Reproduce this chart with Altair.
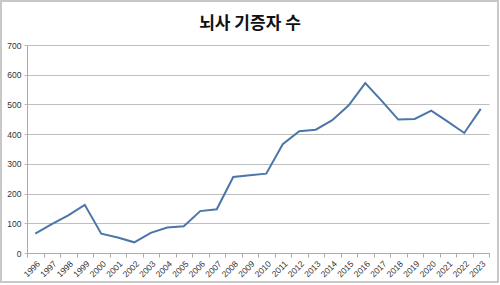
import altair as alt
import pandas as pd

years = [str(y) for y in range(1996, 2024)]
donors = [65, 97, 127, 162, 65, 52, 36, 68, 86, 90, 141, 147, 256, 262,
          267, 366, 410, 415, 447, 497, 572, 512, 449, 451, 479, 442, 404, 485]

df = pd.DataFrame({"year": years, "donors": donors})

W, H = 462, 208
PL, PT, PR, PB = 27, 45, 11, 32

line = alt.Chart(df).mark_line(color="#4a76a8", strokeWidth=2).encode(
    x=alt.X("year:O", scale=alt.Scale(type="band", paddingInner=0, paddingOuter=0),
            axis=alt.Axis(title=None, labelAngle=-45, tickBand="extent",
                          labelFontSize=8.5, labelColor="#333", domainColor="#aaa",
                          tickColor="#aaa", tickSize=4, labelPadding=2,
                          labelFont="Liberation Sans")),
    y=alt.Y("donors:Q", scale=alt.Scale(domain=[0, 700]),
            axis=alt.Axis(title=None, values=list(range(0, 701, 100)),
                          labelFontSize=8.5, labelColor="#333", domainColor="#aaa",
                          tickColor="#bbb", tickSize=3, gridColor="#bebebe",
                          labelPadding=3, labelFont="Liberation Sans")),
)

border = alt.Chart(df).mark_rect(fill=None, stroke="#c8c8c8", strokeWidth=2, clip=False).encode(
    x=alt.value(-PL + 1), x2=alt.value(W + PR - 2),
    y=alt.value(-PT + 1), y2=alt.value(H + PB - 3),
)

chart = alt.layer(line, border).properties(
    width=W, height=H,
    padding={"left": PL, "top": PT, "right": PR, "bottom": PB},
    autosize=alt.AutoSizeParams(type="none"),
    title=alt.TitleParams("뇌사 기증자 수", font="Noto Sans CJK KR", fontSize=17,
                          fontWeight="bold", color="#111", anchor="middle",
                          frame="group", dx=-8, offset=-33),
).configure_view(stroke=None).configure_axisX(grid=False)

chart.save("out.html", embed_options={"renderer": "svg", "actions": False})
